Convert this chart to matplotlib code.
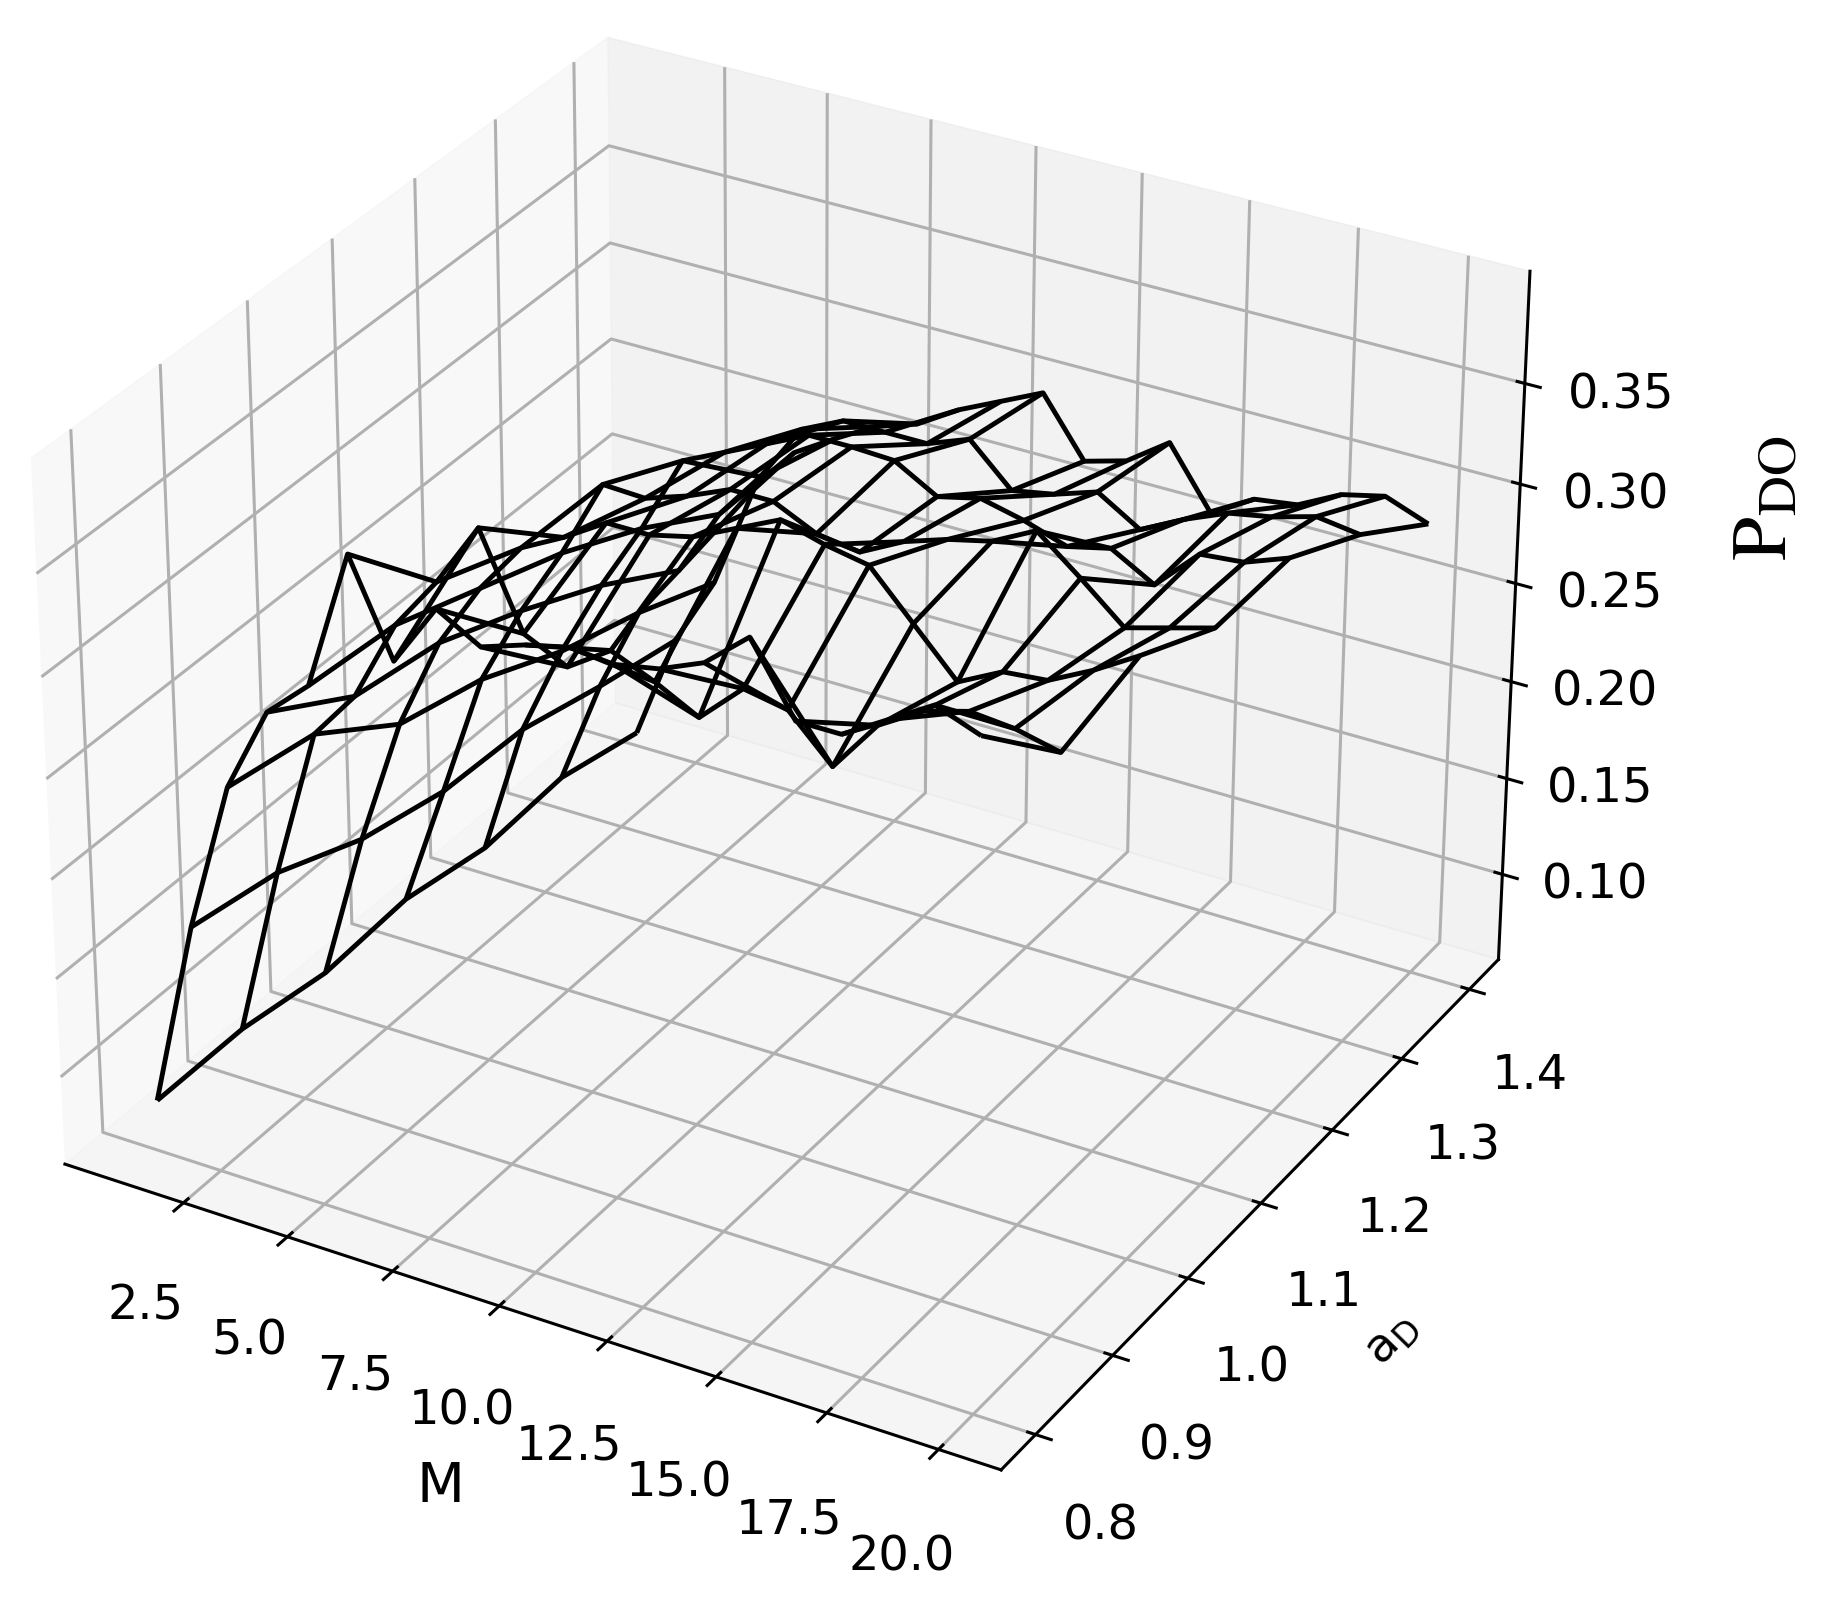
import numpy as np
import matplotlib
matplotlib.use('Agg')
import matplotlib.pyplot as plt

M = list(range(1, 21))
aD = [0.8, 0.9, 1.0, 1.1, 1.2, 1.3, 1.4]

P_08 = [.081,.176,.252,.295,.314,.383,.338,.369,.357,.364,.369,.367,.371,.380,.398,.365,.365,.378,.391,.383]
P_09 = [.081,.168,.244,.269,.310,.337,.369,.324,.314,.328,.319,.308,.328,.324,.303,.329,.342,.348,.346,.341]
P_10 = [.074,.150,.215,.262,.295,.321,.332,.345,.345,.350,.360,.370,.364,.360,.338,.316,.327,.329,.340,.353]
P_11 = [.077,.140,.204,.245,.280,.320,.319,.326,.335,.335,.325,.322,.333,.340,.345,.356,.339,.321,.327,.333]
P_12 = [.069,.138,.185,.225,.260,.300,.310,.320,.330,.330,.329,.317,.322,.317,.310,.315,.303,.324,.326,.334]
P_13 = [.072,.127,.172,.200,.235,.260,.290,.300,.300,.300,.308,.288,.292,.299,.286,.297,.306,.310,.316,.313]
P_14 = [.062,.118,.155,.210,.235,.248,.260,.267,.280,.290,.300,.271,.277,.292,.262,.275,.278,.289,.294,.286]

Z = np.array([P_08, P_09, P_10, P_11, P_12, P_13, P_14])
X, Y = np.meshgrid(M, aD)

plt.rcParams['mathtext.fontset'] = 'stix'
fig = plt.figure(figsize=(18.26, 16.01), dpi=100)
ax = fig.add_axes([-0.0335, 0.0162, 0.913, 1.041], projection='3d')
ax.plot_wireframe(X, Y, Z, color='black', linewidth=3.5, rstride=1, cstride=1)
ax.set_zlim(.055, .405, view_margin=0)
ax.set_xticks([2.5, 5, 7.5, 10, 12.5, 15, 17.5, 20])
ax.set_zticks([.10, .15, .20, .25, .30, .35])
ax.set_yticks(aD)
ax.set_xticklabels(['2.5','5.0','7.5','10.0','12.5','15.0','17.5','20.0'])
ax.tick_params(labelsize=34.5, pad=34)
ax.set_xlabel('M', fontsize=40, labelpad=68)
ax.set_ylabel('a$_{\\mathrm{D}}$', fontsize=34, labelpad=66, math_fontfamily='dejavusans')
fig.text(0.966, 0.689, r'$\mathrm{P}_{\mathrm{DO}}$', fontsize=57, rotation=90, ha='center', va='center')
for a in (ax.xaxis, ax.yaxis, ax.zaxis):
    a.line.set_linewidth(2.2)
    a._axinfo['grid']['linewidth'] = 2.2
    a._axinfo['tick']['linewidth'] = {True: 2.2, False: 1.5}
fig.savefig('out.png', dpi=100)
